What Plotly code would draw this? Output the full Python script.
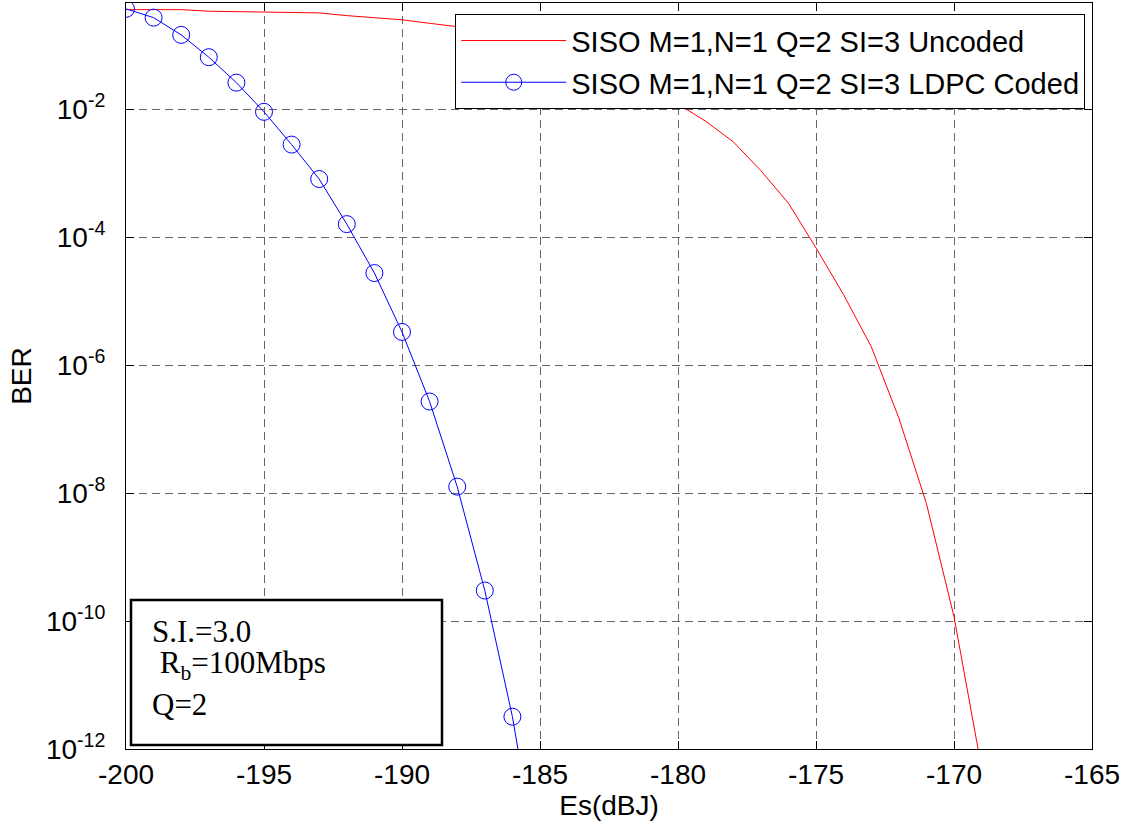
import plotly.graph_objects as go

# ---- data ----
es_uncoded = [-200, -199, -198, -197, -196, -195, -194, -193, -192, -191, -190,
              -189, -188, -187, -186, -185, -184, -183, -182, -181, -180,
              -179, -178, -177, -176, -175, -174, -173, -172, -171, -170, -169]
ber_uncoded = [3.6e-1, 3.6e-1, 3.6e-1, 3.4e-1, 3.35e-1, 3.3e-1, 3.2e-1, 3.2e-1, 2.9e-1, 2.7e-1, 2.5e-1,
               2.2e-1, 1.95e-1, 1.66e-1, 1.35e-1, 1.07e-1, 8.1e-2, 6.0e-2, 4.3e-2, 2.8e-2, 1.2e-2,
               6.5e-3, 3.1e-3, 1.1e-3, 3.4e-4, 6.8e-5, 1.26e-5, 1.95e-6, 1.5e-7, 6.9e-9, 1.17e-10, 5.0e-13]

es_coded = [-200, -199, -198, -197, -196, -195, -194, -193, -192, -191, -190,
            -189, -188, -187, -186, -185]
ber_coded = [3.7e-1, 2.7e-1, 1.45e-1, 6.5e-2, 2.6e-2, 9.1e-3, 2.8e-3, 8.1e-4, 1.6e-4, 2.75e-5, 3.3e-6,
             2.7e-7, 1.26e-8, 3.0e-10, 3.2e-12, 1.0e-14]

name_uncoded = "SISO M=1,N=1 Q=2 SI=3 Uncoded"
name_coded = "SISO M=1,N=1 Q=2 SI=3 LDPC Coded"

x_tickvals = [-200, -195, -190, -185, -180, -175, -170, -165]
x_ticktext = ["-200", "-195", "-190", "-185", "-180", "-175", "-170", "-165"]
y_tickvals = [1e-2, 1e-4, 1e-6, 1e-8, 1e-10, 1e-12]
y_ticktext = ["10<sup>-2</sup>", "10<sup>-4</sup>", "10<sup>-6</sup>",
              "10<sup>-8</sup>", "10<sup>-10</sup>", "10<sup>-12</sup>"]

x_title = "Es(dBJ)"
y_title = "BER"
info_lines = ["S.I.=3.0", " R<sub>b</sub>=100Mbps", "Q=2"]
info_centers_px = [631, 665, 704]

SANS = "Liberation Sans, Arial, sans-serif"
SERIF = "Liberation Serif, Times New Roman, serif"

L, R, T, B = 126, 34, 3, 80
PW, PH = 1126 - L - R, 829 - T - B

fig = go.Figure()
fig.add_trace(go.Scatter(x=es_uncoded, y=ber_uncoded, mode="lines", name=name_uncoded,
                         legendgroup="a",
                         line=dict(color="#ff0000", width=1)))
fig.add_trace(go.Scatter(x=es_coded, y=ber_coded, mode="lines+markers", name=name_coded,
                         legendgroup="b",
                         line=dict(color="#0000ff", width=1),
                         marker=dict(symbol="circle-open", size=17, color="#0000ff",
                                     line=dict(width=1, color="#0000ff"))))

axis_common = dict(showline=True, linecolor="black", linewidth=1, mirror="ticks",
                   ticks="inside", ticklen=8, tickcolor="black",
                   showgrid=True, gridcolor="#666666", gridwidth=1, griddash="8px,5px",
                   zeroline=False, tickfont=dict(family=SANS, size=28, color="black"))

fig.update_xaxes(range=[-200, -165], tickmode="array", tickvals=x_tickvals, ticktext=x_ticktext,
                 title=dict(text=x_title, font=dict(family=SANS, size=28, color="black"), standoff=0),
                 **axis_common)
fig.update_yaxes(type="log", range=[-12, -0.34], tickmode="array", tickvals=y_tickvals, ticktext=y_ticktext,
                 ticklabelstandoff=14,
                 title=dict(text=y_title, font=dict(family=SANS, size=28, color="black"), standoff=6),
                 **axis_common)

# info box
fig.add_shape(type="rect", xref="paper", yref="paper",
              x0=(131 - L) / PW, x1=(442 - L) / PW,
              y0=1 - (745 - T) / PH, y1=1 - (600 - T) / PH,
              line=dict(color="black", width=2.5), fillcolor="white", layer="above")
for line_text, cy in zip(info_lines, info_centers_px):
    fig.add_annotation(xref="paper", yref="paper", x=(151 - L) / PW, y=1 - (cy - T) / PH,
                       xanchor="left", yanchor="middle", align="left", valign="middle",
                       showarrow=False, height=32,
                       text=line_text, borderpad=0,
                       font=dict(family=SERIF, size=31, color="black"))

fig.update_layout(
    width=1126, height=829,
    margin=dict(l=L, r=R, t=T, b=B),
    paper_bgcolor="white", plot_bgcolor="white",
    font=dict(family=SANS, size=28, color="black"),
    showlegend=True,
    legend=dict(x=0.993, y=0.985, xanchor="right", yanchor="top",
                bgcolor="white", bordercolor="black", borderwidth=1,
                font=dict(family=SANS, size=29, color="black"),
                traceorder="grouped", tracegroupgap=1,
                itemwidth=105),
)

fig.write_html("out.html")
